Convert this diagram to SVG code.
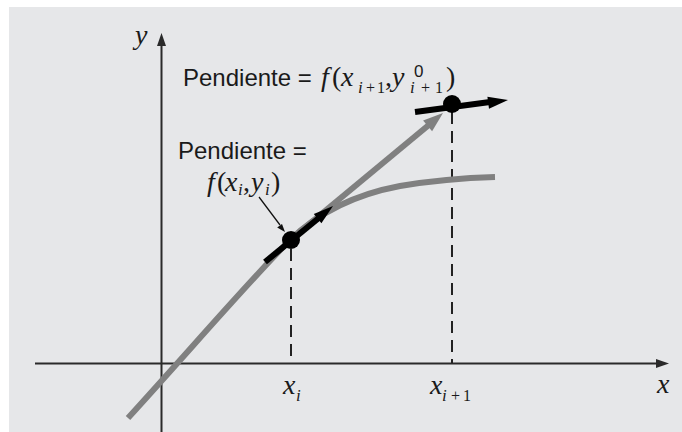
<svg xmlns="http://www.w3.org/2000/svg" width="682" height="432" viewBox="0 0 682 432">
<style>
.sans{font-family:"Liberation Sans",Arial,sans-serif;font-size:24px;fill:#1a1a1a}
.m{font-family:"Liberation Serif","Times New Roman",serif;font-style:italic;font-size:28px;fill:#1a1a1a}
.r{font-family:"Liberation Serif","Times New Roman",serif;font-style:normal;font-size:28px;fill:#1a1a1a}
.sub{font-family:"Liberation Serif","Times New Roman",serif;font-style:italic;font-size:17px;fill:#1a1a1a}
.subr{font-family:"Liberation Serif","Times New Roman",serif;font-style:normal;font-size:16px;fill:#1a1a1a}
.axis{stroke:#2a2a2a;stroke-width:2;fill:none}
.dash{stroke:#222;stroke-width:2;stroke-dasharray:12 7;fill:none}
.gray{stroke:#808080;stroke-width:6;fill:none;stroke-linecap:butt}
.blk{stroke:#000;stroke-width:6;fill:none}
</style>
<rect x="0" y="0" width="682" height="432" fill="#ffffff"/>
<rect x="9" y="7" width="673" height="425" fill="#e6e7e9"/>

<g id="axes">
  <line class="axis" x1="161.5" y1="432" x2="161.5" y2="44"/>
  <polygon points="161.5,33 157,46 166,46" fill="#2a2a2a"/>
  <line class="axis" x1="35" y1="363.5" x2="658" y2="363.5"/>
  <polygon points="669,363.5 656,359 656,368" fill="#2a2a2a"/>
  <text class="m" x="135" y="44">y</text>
  <text class="m" x="657" y="393">x</text>
</g>

<g id="connectors">
  <line class="dash" x1="291" y1="249" x2="291" y2="363"/>
  <line class="dash" x1="452" y1="112" x2="452" y2="363"/>
  <path class="gray" d="M128,418 C190,350 250,280 290,240 C318,213 352,195 400,186 C430,181 460,178 495,177"/>
  <line class="gray" x1="290" y1="240" x2="430" y2="124"/>
  <polygon points="443,113 432.1,131.2 423.1,120.4" fill="#808080"/>
  <line class="blk" x1="265" y1="262" x2="320" y2="217"/>
  <polygon points="333,206 321.4,223.3 313.8,214.1" fill="#000"/>
  <line class="blk" x1="415" y1="112" x2="490" y2="102"/>
  <polygon points="508,100 489,108.7 487.4,96.8" fill="#000"/>
  <line x1="259" y1="197" x2="280" y2="225" stroke="#111" stroke-width="1.3"/>
  <polygon points="285,232 277.2,227.4 282.0,223.9" fill="#111"/>
</g>

<g id="point-i">
  <circle cx="291" cy="240" r="9" fill="#000"/>
  <text class="m" x="283" y="394">x</text>
  <text class="sub" x="296" y="401">i</text>
</g>

<g id="point-i1">
  <circle cx="452" cy="104" r="9" fill="#000"/>
  <text class="m" x="430" y="394">x</text>
  <text class="sub" x="442" y="401">i</text>
  <text class="subr" x="451" y="401">+</text>
  <text class="subr" x="463" y="401">1</text>
</g>

<g id="label-top">
  <text class="sans" x="183" y="86">Pendiente =</text>
  <text class="m" x="321" y="86">f</text>
  <text class="r" x="332" y="86">(</text>
  <text class="m" x="341" y="86">x</text>
  <text class="sub" x="358" y="93">i</text>
  <text class="subr" x="366" y="93">+</text>
  <text class="subr" x="377" y="93">1</text>
  <text class="r" x="385" y="86">,</text>
  <text class="m" x="392" y="86">y</text>
  <text x="414" y="77" style="font-family:'Liberation Sans',Arial,sans-serif;font-size:17px;fill:#1a1a1a">0</text>
  <text class="sub" x="410" y="93">i</text>
  <text class="subr" x="421" y="93">+</text>
  <text class="subr" x="435" y="93">1</text>
  <text class="r" x="446" y="86">)</text>
</g>

<g id="label-i">
  <text class="sans" x="178" y="159">Pendiente =</text>
  <text class="m" x="207" y="191">f</text>
  <text class="r" x="217" y="191">(</text>
  <text class="m" x="225" y="191">x</text>
  <text class="sub" x="238" y="195">i</text>
  <text class="r" x="243" y="191">,</text>
  <text class="m" x="251" y="191">y</text>
  <text class="sub" x="265" y="195">i</text>
  <text class="r" x="271" y="191">)</text>
</g>
</svg>
